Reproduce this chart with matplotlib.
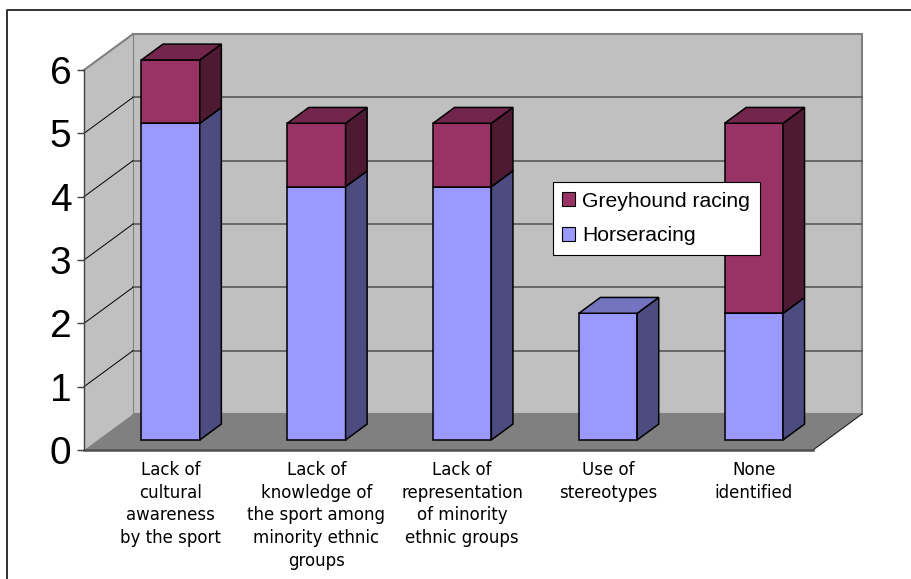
import numpy as np
import matplotlib
matplotlib.use("Agg")
import matplotlib.pyplot as plt
from matplotlib.patches import Polygon, Patch
from matplotlib.lines import Line2D

categories = [
    "Lack of\ncultural\nawareness\nby the sport",
    "Lack of\nknowledge of\nthe sport among\nminority ethnic\ngroups",
    "Lack of\nrepresentation\nof minority\nethnic groups",
    "Use of\nstereotypes",
    "None\nidentified",
]
horseracing = [5, 4, 4, 2, 2]
greyhound = [1, 1, 1, 0, 3]
y_ticks = [0, 1, 2, 3, 4, 5, 6]

# face colours: front, top, side
HORSE = ("#9999ff", "#7373bf", "#4c4c80")
GREY = ("#993366", "#73264c", "#4d1933")

# oblique depth vector (data units) and bar placement in depth
DX, DY = 0.336, 0.568
F0, F1 = 0.28, 0.72
BAR_W = 0.4


def proj(x, y, f):
    return (x + f * DX, y + f * DY)


def poly(ax, pts, fc, ec="none", lw=0.0, z=1):
    ax.add_patch(Polygon(pts, closed=True, facecolor=fc, edgecolor=ec,
                         linewidth=lw, zorder=z, clip_on=False, joinstyle="miter"))


def draw_box(ax, x0, x1, y0, y1, cols, z):
    front, top, side = cols
    poly(ax, [proj(x0, y0, F0), proj(x1, y0, F0), proj(x1, y1, F0), proj(x0, y1, F0)],
         front, "black", 1.1, z)
    poly(ax, [proj(x1, y0, F0), proj(x1, y0, F1), proj(x1, y1, F1), proj(x1, y1, F0)],
         side, "black", 1.1, z)
    poly(ax, [proj(x0, y1, F0), proj(x1, y1, F0), proj(x1, y1, F1), proj(x0, y1, F1)],
         top, "black", 1.1, z)


fig = plt.figure(figsize=(9.11, 5.79), dpi=100)
ax = fig.add_axes([84 / 911, (579 - 450) / 579, 729 / 911, 380 / 579])
ax.set_xlim(-0.5, len(categories) - 0.5)
ax.set_ylim(0, 6)
ax.patch.set_visible(False)

xl, xr = -0.5, len(categories) - 0.5
ytop = y_ticks[-1]

# walls and floor
poly(ax, [proj(xl, 0, 1), proj(xr, 0, 1), proj(xr, ytop, 1), proj(xl, ytop, 1)],
     "#c0c0c0", "#808080", 1.5, 0.5)
poly(ax, [proj(xl, 0, 0), proj(xl, 0, 1), proj(xl, ytop, 1), proj(xl, ytop, 0)],
     "#c0c0c0", "none", 0, 0.6)
poly(ax, [proj(xl, 0, 0), proj(xr, 0, 0), proj(xr, 0, 1), proj(xl, 0, 1)],
     "#808080", "none", 0, 0.7)
ax.plot(*zip(proj(xl, ytop, 0), proj(xl, ytop, 1)), color="#808080", lw=1.5,
        clip_on=False, zorder=0.8)
ax.plot(*zip(proj(xr, 0, 0), proj(xr, 0, 1)), color="#202020", lw=0.8,
        clip_on=False, zorder=0.8)

# gridlines on the back and side walls
for v in y_ticks[1:-1]:
    ax.plot(*zip(proj(xl, v, 1), proj(xr, v, 1)), color="#606060", lw=1.3,
            clip_on=False, zorder=0.8)
    ax.plot(*zip(proj(xl, v, 0), proj(xl, v, 1)), color="black", lw=0.7,
            clip_on=False, zorder=0.8)

# stacked bars
for i in range(len(categories)):
    x0, x1 = i - BAR_W / 2, i + BAR_W / 2
    h, g = horseracing[i], greyhound[i]
    if h > 0:
        draw_box(ax, x0, x1, 0, h, HORSE, 2 + i)
    if g > 0:
        draw_box(ax, x0, x1, h, h + g, GREY, 2 + i)

# axes
for s in ["top", "right"]:
    ax.spines[s].set_visible(False)
ax.spines["left"].set_color("#404040")
ax.spines["left"].set_linewidth(1.0)
ax.spines["bottom"].set_color("#505050")
ax.spines["bottom"].set_linewidth(1.8)
ax.spines["left"].set_zorder(1)
ax.spines["bottom"].set_zorder(1)

ax.set_yticks(y_ticks)
ax.set_yticklabels([str(v) for v in y_ticks], fontsize=28, family="Liberation Sans")
ax.tick_params(axis="y", length=5, width=1, color="#404040", pad=4)

ax.set_xticks(np.arange(len(categories)) + F0 * DX)
ax.set_xticklabels(categories, fontsize=12, family="DejaVu Sans", linespacing=1.33)
ax.tick_params(axis="x", length=0, pad=8)

handles = [Patch(facecolor=GREY[0], edgecolor="black", linewidth=0.8),
           Patch(facecolor=HORSE[0], edgecolor="black", linewidth=0.8)]
leg = ax.legend(handles, ["Greyhound racing", "Horseracing"],
                loc="upper left", bbox_to_anchor=(0.643, 0.705), borderaxespad=0,
                prop={"family": "Liberation Sans", "size": 15.2},
                handlelength=0.6, handleheight=0.6, handletextpad=0.35,
                labelspacing=0.75, borderpad=0.45, fancybox=False,
                edgecolor="black", framealpha=1)
leg.get_frame().set_linewidth(0.8)
leg.set_zorder(20)

# outer chart border (left and top edges)
fig.add_artist(Line2D([7 / 911, 7 / 911, 1.0], [0.0, 1 - 10 / 579, 1 - 10 / 579],
                      transform=fig.transFigure, color="#333333", linewidth=1.4))

fig.savefig("out.png", dpi=100)
